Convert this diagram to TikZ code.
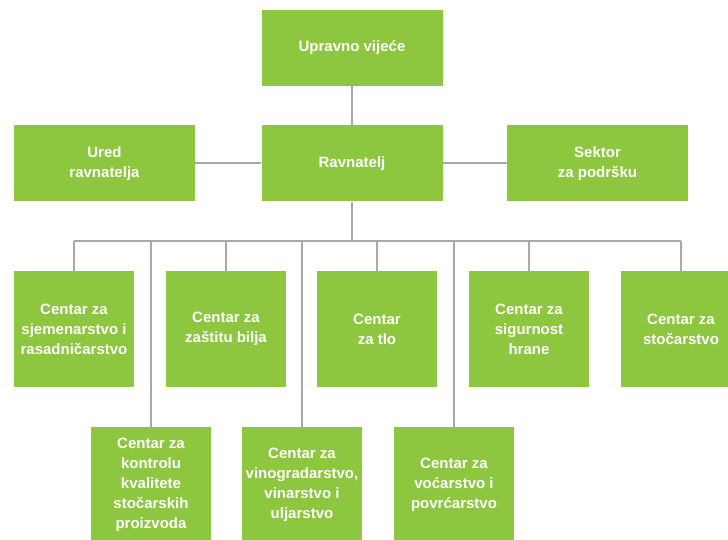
\documentclass[tikz,border=0pt]{standalone}
\usepackage{fontspec}
\setmainfont{Liberation Sans}
\usetikzlibrary{positioning}
\definecolor{unitgreen}{HTML}{8DC63F}
\definecolor{linegray}{HTML}{A8A8AA}
\tikzset{
  unitbox/.style={fill=unitgreen, text=white, align=center, inner sep=0pt,
    font=\bfseries\fontsize{15}{20}\selectfont,
    minimum width=181pt, minimum height=76pt},
  centerbox/.style={unitbox, minimum width=120pt, minimum height=116pt},
  link/.style={draw=linegray, line width=2pt}
}

\begin{document}
\begin{tikzpicture}[x=1pt, y=-1pt]
  \useasboundingbox (0,0) rectangle (728,540);
  \clip (0,0) rectangle (728,540);

  \coordinate (busL) at (74,241);
  \coordinate (busR) at (681,241);

  \node[unitbox] (uprava) at (352,48) {Upravno vijeće};
  \node[unitbox] (ravnatelj) at (352,163.5) {Ravnatelj};
  \node[unitbox] (ured) at (104.5,163.5) {Ured\\ravnatelja};
  \node[unitbox] (sektor) at (597.5,163.5) {Sektor\\za podršku};

  \node[centerbox] (sjeme) at (74,329) {Centar za\\sjemenarstvo i\\rasadničarstvo};
  \node[centerbox] (zastita) at (226,329) {Centar za\\zaštitu bilja};
  \node[centerbox] (tlo) at (377,329) {Centar\\za tlo};
  \node[centerbox] (hrana) at (529,329) {Centar za\\sigurnost\\hrane};
  \node[centerbox] (stocarstvo) at (681,329) {Centar za\\stočarstvo};

  \node[centerbox] (kontrola) at (151,485) {Centar za\\kontrolu\\kvalitete\\stočarskih\\proizvoda};
  \node[centerbox] (vino) at (302,485) {Centar za\\vinogradarstvo,\\vinarstvo i\\uljarstvo};
  \node[centerbox] (voce) at (454,485) {Centar za\\voćarstvo i\\povrćarstvo};

  \draw[link] (uprava) -- (ravnatelj);
  \draw[link] (ured) -- (ravnatelj);
  \draw[link] (ravnatelj) -- (sektor);
  \draw[link] (ravnatelj) -- (ravnatelj |- busL);
  \draw[link] (busL) -- (busR);
  \draw[link] (sjeme) -- (sjeme |- busL);
  \draw[link] (zastita) -- (zastita |- busL);
  \draw[link] (tlo) -- (tlo |- busL);
  \draw[link] (hrana) -- (hrana |- busL);
  \draw[link] (stocarstvo) -- (stocarstvo |- busL);
  \draw[link] (kontrola) -- (kontrola |- busL);
  \draw[link] (vino) -- (vino |- busL);
  \draw[link] (voce) -- (voce |- busL);
\end{tikzpicture}
\end{document}
